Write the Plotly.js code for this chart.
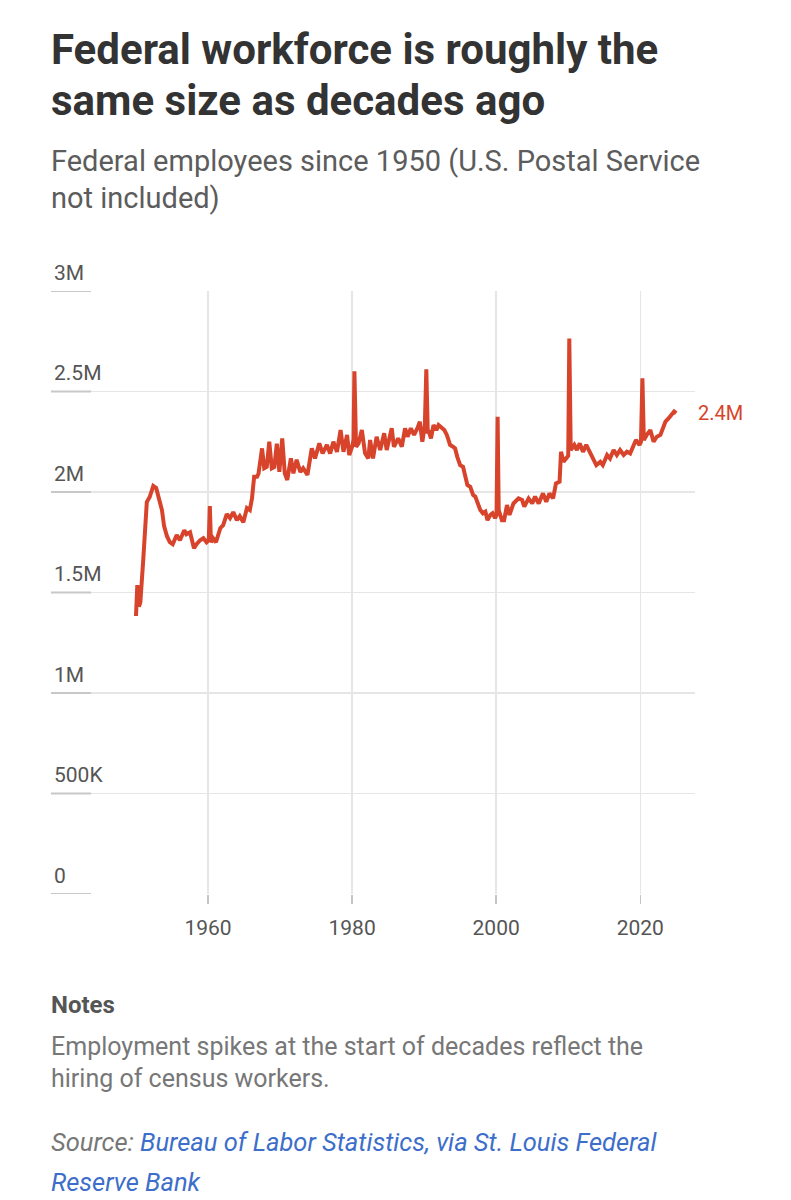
<!DOCTYPE html>
<html>
<head>
<meta charset="utf-8">
<script src="https://cdn.plot.ly/plotly-3.0.1.min.js"></script>
<style>
  html, body { margin: 0; padding: 0; background: #fff; }
  #chart { width: 791px; height: 1200px; }
</style>
</head>
<body>
<div id="chart"></div>
<script>
// Federal employees (millions), USPS excluded
const years = [
  1950.0, 1950.18, 1950.4, 1950.6, 1951.0, 1951.5, 1951.9, 1952.4, 1952.8, 1953.1,
  1953.6, 1953.9, 1954.3, 1954.7, 1955.1, 1955.65, 1956.1, 1956.7, 1957.0, 1957.5,
  1958.05, 1958.4, 1958.9, 1959.35, 1959.8, 1960.1, 1960.25, 1960.4, 1960.7, 1961.1,
  1961.7, 1962.1, 1962.6, 1963.05, 1963.5, 1964.0, 1964.4, 1964.9, 1965.4, 1965.8,
  1966.1, 1966.4, 1966.8, 1967.0, 1967.5, 1967.8, 1968.15, 1968.5, 1968.85, 1969.2,
  1969.55, 1969.9, 1970.3, 1970.65, 1971.0, 1971.5, 1971.85, 1972.3, 1972.8, 1973.2,
  1973.8, 1974.4, 1974.85, 1975.45, 1975.9, 1976.5, 1976.95, 1977.4, 1977.9, 1978.4,
  1978.8, 1979.3, 1979.6, 1980.0, 1980.2, 1980.32, 1980.45, 1980.55, 1980.9, 1981.35,
  1981.8, 1982.25, 1982.5, 1982.9, 1983.4, 1983.9, 1984.45, 1984.8, 1985.5, 1985.8,
  1986.4, 1986.9, 1987.35, 1987.7, 1988.15, 1988.6, 1989.1, 1989.4, 1989.75, 1990.1,
  1990.3, 1990.5, 1990.65, 1990.95, 1991.3, 1991.7, 1992.0, 1992.5, 1992.8, 1993.15,
  1993.6, 1994.0, 1994.3, 1994.6, 1995.0, 1995.4, 1995.7, 1996.0, 1996.4, 1996.8,
  1997.1, 1997.4, 1997.8, 1998.15, 1998.5, 1998.8, 1999.2, 1999.5, 1999.85, 2000.05,
  2000.2, 2000.35, 2000.8, 2001.1, 2001.5, 2001.85, 2002.4, 2003.1, 2003.6, 2003.9,
  2004.5, 2005.0, 2005.4, 2005.9, 2006.5, 2006.95, 2007.4, 2007.9, 2008.3, 2008.8,
  2009.0, 2009.35, 2009.8, 2010.0, 2010.15, 2010.35, 2010.85, 2011.2, 2011.6, 2012.05,
  2012.5, 2013.0, 2013.5, 2013.9, 2014.45, 2014.8, 2015.4, 2015.8, 2016.3, 2016.75,
  2017.2, 2017.7, 2018.15, 2018.6, 2019.1, 2019.4, 2019.9, 2020.1, 2020.3, 2020.5,
  2020.9, 2021.4, 2021.85, 2022.3, 2022.8, 2023.15, 2023.5, 2023.95, 2024.4, 2024.7,
  2025.0
];
const employeesM = [
  1.383, 1.537, 1.430, 1.450, 1.660, 1.950, 1.975, 2.030, 2.020, 1.985,
  1.910, 1.830, 1.780, 1.750, 1.740, 1.786, 1.760, 1.810, 1.790, 1.800,
  1.720, 1.740, 1.760, 1.770, 1.750, 1.760, 1.930, 1.750, 1.770, 1.750,
  1.820, 1.835, 1.890, 1.870, 1.900, 1.860, 1.880, 1.850, 1.920, 1.910,
  1.968, 2.076, 2.076, 2.090, 2.217, 2.118, 2.125, 2.250, 2.118, 2.125,
  2.240, 2.100, 2.267, 2.093, 2.060, 2.167, 2.093, 2.160, 2.100, 2.118,
  2.085, 2.217, 2.167, 2.242, 2.192, 2.234, 2.192, 2.250, 2.200, 2.308,
  2.200, 2.284, 2.184, 2.225, 2.260, 2.600, 2.250, 2.225, 2.242, 2.308,
  2.192, 2.167, 2.259, 2.167, 2.275, 2.209, 2.292, 2.209, 2.317, 2.225,
  2.267, 2.225, 2.317, 2.275, 2.317, 2.284, 2.320, 2.350, 2.250, 2.333,
  2.610, 2.300, 2.300, 2.267, 2.333, 2.308, 2.333, 2.317, 2.308, 2.284,
  2.234, 2.225, 2.217, 2.175, 2.134, 2.125, 2.076, 2.035, 2.026, 1.985,
  1.977, 1.943, 1.910, 1.894, 1.902, 1.860, 1.886, 1.894, 1.870, 1.886,
  2.374, 1.910, 1.860, 1.860, 1.935, 1.886, 1.943, 1.968, 1.960, 1.927,
  1.968, 1.943, 1.977, 1.943, 1.993, 1.952, 1.993, 1.968, 2.043, 2.051,
  2.200, 2.150, 2.167, 2.180, 2.764, 2.209, 2.234, 2.209, 2.242, 2.200,
  2.234, 2.200, 2.167, 2.134, 2.150, 2.134, 2.184, 2.167, 2.209, 2.184,
  2.209, 2.184, 2.200, 2.192, 2.234, 2.259, 2.234, 2.250, 2.566, 2.259,
  2.284, 2.308, 2.250, 2.275, 2.284, 2.325, 2.350, 2.367, 2.392, 2.400,
  2.392
];
const xTickVals = [1960, 1980, 2000, 2020];
const xTickText = ['1960', '1980', '2000', '2020'];
const yTickVals = [0, 0.5, 1, 1.5, 2, 2.5, 3];
const yTickText = ['0', '500K', '1M', '1.5M', '2M', '2.5M', '3M'];
const endLabel = '2.4M';

const titleLines = ['Federal workforce is roughly the', 'same size as decades ago'];
const subtitleLines = ['Federal employees since 1950 (U.S. Postal Service', 'not included)'];
const notesHead = 'Notes';
const notesLines = ['Employment spikes at the start of decades reflect the', 'hiring of census workers.'];
const sourceLabel = 'Source: ';
const sourceLines = ['Bureau of Labor Statistics, via St. Louis Federal', 'Reserve Bank'];

const FONT = 'Roboto, "Noto Sans", sans-serif';
const RED = '#d8432b';
const PLOT_TOP = 291, PLOT_BOTTOM = 894;
const py = (pix) => (PLOT_BOTTOM - pix) / (PLOT_BOTTOM - PLOT_TOP);

const trace = {
  x: years,
  y: employeesM,
  type: 'scatter',
  mode: 'lines',
  line: { color: RED, width: 4 },
  hoverinfo: 'skip'
};

const annotations = [];
function txt(text, ypix, size, color, extra) {
  annotations.push(Object.assign({
    xref: 'paper', yref: 'paper', x: 0, y: py(ypix),
    xanchor: 'left', yanchor: 'middle', showarrow: false,
    text: text, align: 'left',
    font: { family: FONT, size: size, color: color }
  }, extra || {}));
}
txt('<b>' + titleLines[0] + '</b>', 49, 42, '#333333', { xshift: -2 });
txt('<b>' + titleLines[1] + '</b>', 100, 42, '#333333', { xshift: -2 });
txt(subtitleLines[0], 161, 29, '#5c5c5c', { xshift: -2 });
txt(subtitleLines[1], 198, 29, '#5c5c5c', { xshift: -2 });
txt('<b>' + notesHead + '</b>', 1005, 24, '#555555', { xshift: -2 });
txt(notesLines[0], 1046, 25, '#777777', { xshift: -2 });
txt(notesLines[1], 1078, 25, '#777777', { xshift: -2 });
txt('<i>' + sourceLabel + '<span style="color:#3d6ec9">' + sourceLines[0] + '</span></i>', 1142, 25.5, '#777777', { xshift: -2 });
txt('<i><span style="color:#3d6ec9">' + sourceLines[1] + '</span></i>', 1182, 25.5, '#777777', { xshift: -2 });

annotations.push({
  xref: 'x', yref: 'y',
  x: years[years.length - 1], y: employeesM[employeesM.length - 1],
  xanchor: 'left', yanchor: 'middle', xshift: 20, showarrow: false,
  text: endLabel, font: { family: FONT, size: 20, color: RED }
});

const shapes = yTickVals.map(v => ({
  type: 'line', xref: 'paper', yref: 'y',
  x0: 0, x1: 40 / 644, y0: v, y1: v,
  line: { color: '#c8c8c8', width: 2 }, layer: 'above'
}));

const layout = {
  width: 791, height: 1200,
  margin: { l: 51, r: 96, t: PLOT_TOP, b: 1200 - PLOT_BOTTOM, pad: 0 },
  paper_bgcolor: '#ffffff', plot_bgcolor: '#ffffff',
  showlegend: false,
  font: { family: FONT, color: '#555555' },
  xaxis: {
    range: [1938.2, 2027.6],
    tickmode: 'array', tickvals: xTickVals, ticktext: xTickText,
    showgrid: true, gridcolor: '#e6e6e6', gridwidth: 1.5,
    zeroline: false, showline: false,
    ticks: 'outside', ticklen: 9, tickwidth: 1.5, tickcolor: '#c4c4c4',
    tickfont: { family: FONT, size: 21, color: '#555555' },
    ticklabelstandoff: 6,
    fixedrange: true
  },
  yaxis: {
    range: [0, 3],
    tickmode: 'array', tickvals: yTickVals, ticktext: yTickText,
    showgrid: true, gridcolor: '#e6e6e6', gridwidth: 1.5,
    zeroline: false, showline: false,
    ticks: '', ticklabelposition: 'inside top', ticklabeloverflow: 'allow',
    ticklabelshift: -4,
    tickfont: { family: FONT, size: 21, color: '#555555' },
    fixedrange: true
  },
  annotations: annotations,
  shapes: shapes
};

Plotly.newPlot('chart', [trace], layout, { displayModeBar: false, staticPlot: true });
</script>
</body>
</html>
